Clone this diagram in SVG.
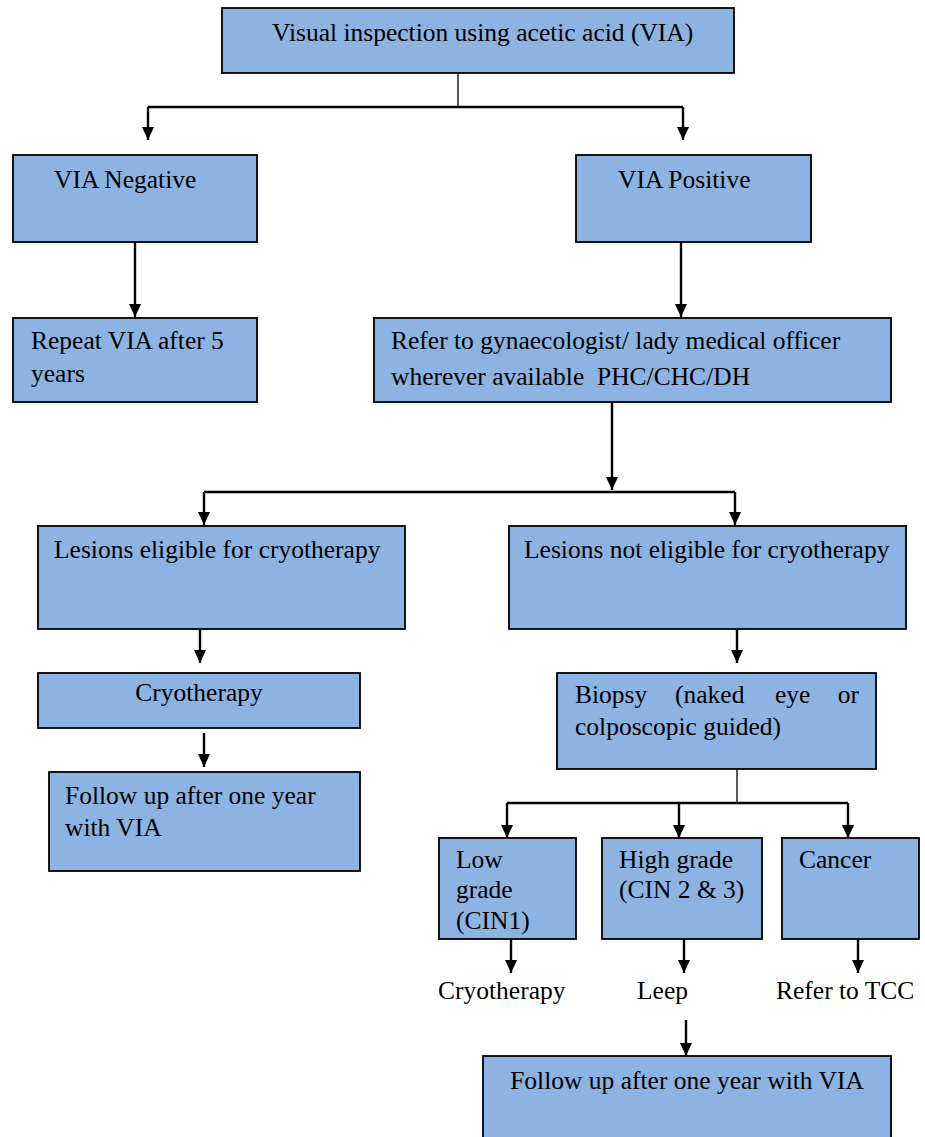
<svg xmlns="http://www.w3.org/2000/svg" width="925" height="1137" viewBox="0 0 925 1137">
<style>
.box{fill:#8db3e2;stroke:#000;stroke-width:1.8}
.t{font-family:'Liberation Serif','Times New Roman',serif;font-size:25.5px;fill:#000;white-space:pre}
.c{stroke:#000;stroke-width:2.4;fill:none}
.thin{stroke:#000;stroke-width:1.3;fill:none}
</style>
<defs>
<marker id="ah2" markerWidth="13" markerHeight="12" refX="13" refY="6" orient="auto" markerUnits="userSpaceOnUse" viewBox="0 0 13 12">
<path d="M0,0 L13,6 L0,12 Z" fill="#000"/>
</marker>
</defs>
<g id="connectors">
<path class="thin" d="M458,73 V107"/>
<path class="c" d="M148,107 H683"/>
<path class="c" d="M148,107 V140" marker-end="url(#ah2)"/>
<path class="c" d="M683,107 V140" marker-end="url(#ah2)"/>
<path class="c" d="M135,242 V317" marker-end="url(#ah2)"/>
<path class="c" d="M681,242 V317" marker-end="url(#ah2)"/>
<path class="c" d="M612,402 V490" marker-end="url(#ah2)"/>
<path class="c" d="M204,492 H735"/>
<path class="c" d="M204,492 V525" marker-end="url(#ah2)"/>
<path class="c" d="M735,492 V525" marker-end="url(#ah2)"/>
<path class="c" d="M200,629 V663" marker-end="url(#ah2)"/>
<path class="c" d="M204,733 V767" marker-end="url(#ah2)"/>
<path class="c" d="M737,629 V663" marker-end="url(#ah2)"/>
<path class="thin" d="M737,769 V803"/>
<path class="c" d="M507,803 H848"/>
<path class="c" d="M507,803 V838" marker-end="url(#ah2)"/>
<path class="c" d="M679,803 V838" marker-end="url(#ah2)"/>
<path class="c" d="M848,803 V838" marker-end="url(#ah2)"/>
<path class="c" d="M511,939 V973" marker-end="url(#ah2)"/>
<path class="c" d="M684,939 V973" marker-end="url(#ah2)"/>
<path class="c" d="M858,939 V973" marker-end="url(#ah2)"/>
<path class="c" d="M686,1020 V1056" marker-end="url(#ah2)"/>
</g>
<g id="n-via"><rect class="box" x="222" y="8" width="512" height="65"/><text class="t" x="272" y="41">Visual inspection using acetic acid (VIA)</text></g>
<g id="n-neg"><rect class="box" x="13" y="155" width="244" height="87"/><text class="t" x="54" y="188">VIA Negative</text></g>
<g id="n-pos"><rect class="box" x="576" y="155" width="235" height="87"/><text class="t" x="618" y="188">VIA Positive</text></g>
<g id="n-repeat"><rect class="box" x="13" y="318" width="244" height="84"/><text class="t" x="31" y="349">Repeat VIA after 5</text><text class="t" x="31" y="382">years</text></g>
<g id="n-refer"><rect class="box" x="374" y="318" width="517" height="84"/><text class="t" x="391" y="349">Refer to gynaecologist/ lady medical officer</text><text class="t" x="391" y="385">wherever available  PHC/CHC/DH</text></g>
<g id="n-elig"><rect class="box" x="38" y="526" width="367" height="103"/><text class="t" x="54" y="558">Lesions eligible for cryotherapy</text></g>
<g id="n-notelig"><rect class="box" x="509" y="526" width="397" height="103"/><text class="t" x="524" y="558">Lesions not eligible for cryotherapy</text></g>
<g id="n-cryo"><rect class="box" x="38" y="673" width="322" height="55"/><text class="t" x="199" y="701" text-anchor="middle">Cryotherapy</text></g>
<g id="n-follow1"><rect class="box" x="49" y="772" width="311" height="99"/><text class="t" x="65" y="804">Follow up after one year</text><text class="t" x="65" y="836">with VIA</text></g>
<g id="n-biopsy"><rect class="box" x="557" y="673" width="319" height="96"/><text class="t" x="575" y="703">Biopsy</text><text class="t" x="675" y="703">(naked</text><text class="t" x="775" y="703">eye</text><text class="t" x="859" y="703" text-anchor="end">or</text><text class="t" x="575" y="735">colposcopic guided)</text></g>
<g id="n-low"><rect class="box" x="439" y="838" width="137" height="101"/><text class="t" x="456" y="868">Low</text><text class="t" x="456" y="898">grade</text><text class="t" x="456" y="929">(CIN1)</text></g>
<g id="n-high"><rect class="box" x="602" y="838" width="160" height="101"/><text class="t" x="619" y="868">High grade</text><text class="t" x="619" y="898">(CIN 2 &amp; 3)</text></g>
<g id="n-cancer"><rect class="box" x="782" y="838" width="137" height="101"/><text class="t" x="799" y="868">Cancer</text></g>
<g id="n-lcryo"><text class="t" x="438" y="999">Cryotherapy</text></g>
<g id="n-leep"><text class="t" x="637" y="999">Leep</text></g>
<g id="n-tcc"><text class="t" x="776" y="999">Refer to TCC</text></g>
<g id="n-follow2"><rect class="box" x="483" y="1056" width="408" height="90"/><text class="t" x="687" y="1089" text-anchor="middle">Follow up after one year with VIA</text></g>
</svg>
